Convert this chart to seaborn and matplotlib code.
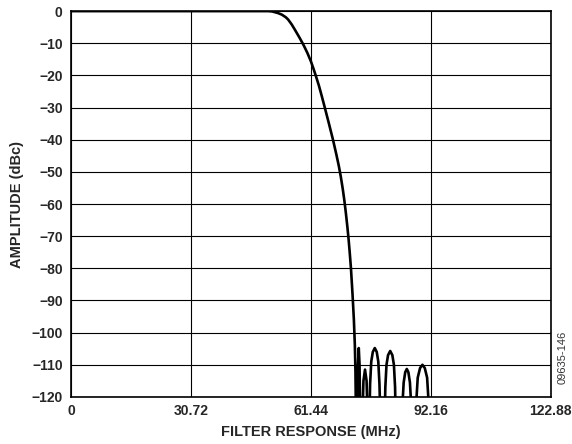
import pandas as pd
import matplotlib
matplotlib.use("Agg")
import matplotlib.pyplot as plt
import seaborn as sns

# passband + transition (MHz, dBc)
pass_freq = [0, 50.5, 51.5, 53.0, 54.0, 55.0, 55.6, 56.5, 57.3, 58.5, 59.5,
             60.5, 61.44, 62.1, 62.7, 63.5, 64.2, 65.0, 66.0, 67.1, 68.0,
             68.6, 69.1, 69.6, 70.0, 70.4, 70.8, 71.1, 71.4, 71.7, 72.1,
             72.45, 72.7, 72.85, 73.0]
pass_db = [0, 0, -0.1, -0.6, -1.1, -1.9, -2.6, -4.1, -5.7, -8.2, -10.4,
           -12.9, -15.6, -17.9, -20.1, -23.2, -26.3, -30.0, -34.7, -40.0, -44.8,
           -48.2, -51.5, -55.3, -58.8, -62.8, -67.3, -71.0, -75.3, -80.0, -88.0,
           -96.0, -104.0, -112.0, -128.0]

# stopband lobes
stop_freq = [73.3, 73.5, 73.7, 73.9, 74.1,
             74.6, 74.9, 75.3, 75.7, 76.0,
             76.4, 76.6, 76.9, 77.3, 77.8, 78.3, 78.7, 79.0, 79.3,
             80.3, 80.5, 80.8, 81.2, 81.75, 82.3, 82.7, 83.0, 83.2,
             84.7, 84.9, 85.2, 85.6, 86.0, 86.4, 86.8, 87.1, 87.4,
             88.2, 88.4, 88.8, 89.4, 90.0, 90.6, 91.2, 91.6, 92.0]
stop_db = [-128, -110, -104.8, -110, -128,
           -128, -115, -111.5, -115, -128,
           -130, -116, -109, -106, -104.8, -106, -109, -116, -130,
           -130, -117, -110, -107, -105.7, -107, -110, -117, -130,
           -130, -122, -115.5, -112.3, -111.3, -112.3, -115.5, -122, -130,
           -130, -122, -114, -111, -110, -111, -114, -122, -130]

x_ticks = [0, 30.72, 61.44, 92.16, 122.88]
x_labels = ["0", "30.72", "61.44", "92.16", "122.88"]
y_ticks = list(range(-120, 1, 10))

df = pd.DataFrame({"freq": pass_freq + stop_freq, "db": pass_db + stop_db})

sns.set_style("white")
plt.rcParams["font.family"] = ["Liberation Sans", "DejaVu Sans"]

fig = plt.figure(figsize=(5.72, 4.44), dpi=100)
ax = fig.add_axes([0.124, 0.106, 0.839, 0.869])

sns.lineplot(data=df, x="freq", y="db", sort=False, estimator=None,
             color="black", linewidth=1.9, ax=ax)

ax.set_xlim(0, 122.88)
ax.set_ylim(-120, 0)
ax.set_xticks(x_ticks)
ax.set_xticklabels(x_labels)
ax.set_yticks(y_ticks)
ax.grid(True, color="black", linewidth=0.8)
ax.tick_params(length=0, labelsize=10)
ax.tick_params(axis="y", pad=6)
ax.tick_params(axis="x", pad=5)
for lbl in ax.get_xticklabels() + ax.get_yticklabels():
    lbl.set_fontweight("bold")
for sp in ax.spines.values():
    sp.set_color("black")
    sp.set_linewidth(1.2)

ax.set_xlabel("FILTER RESPONSE (MHz)", fontsize=10.5, fontweight="bold", labelpad=5)
ax.set_ylabel("AMPLITUDE (dBc)", fontsize=10.5, fontweight="bold", labelpad=5)

fig.text(0.983, 0.196, "09635-146", rotation=90, fontsize=8, color="#333333",
         ha="center", va="center")

fig.savefig("out.png", dpi=100)
